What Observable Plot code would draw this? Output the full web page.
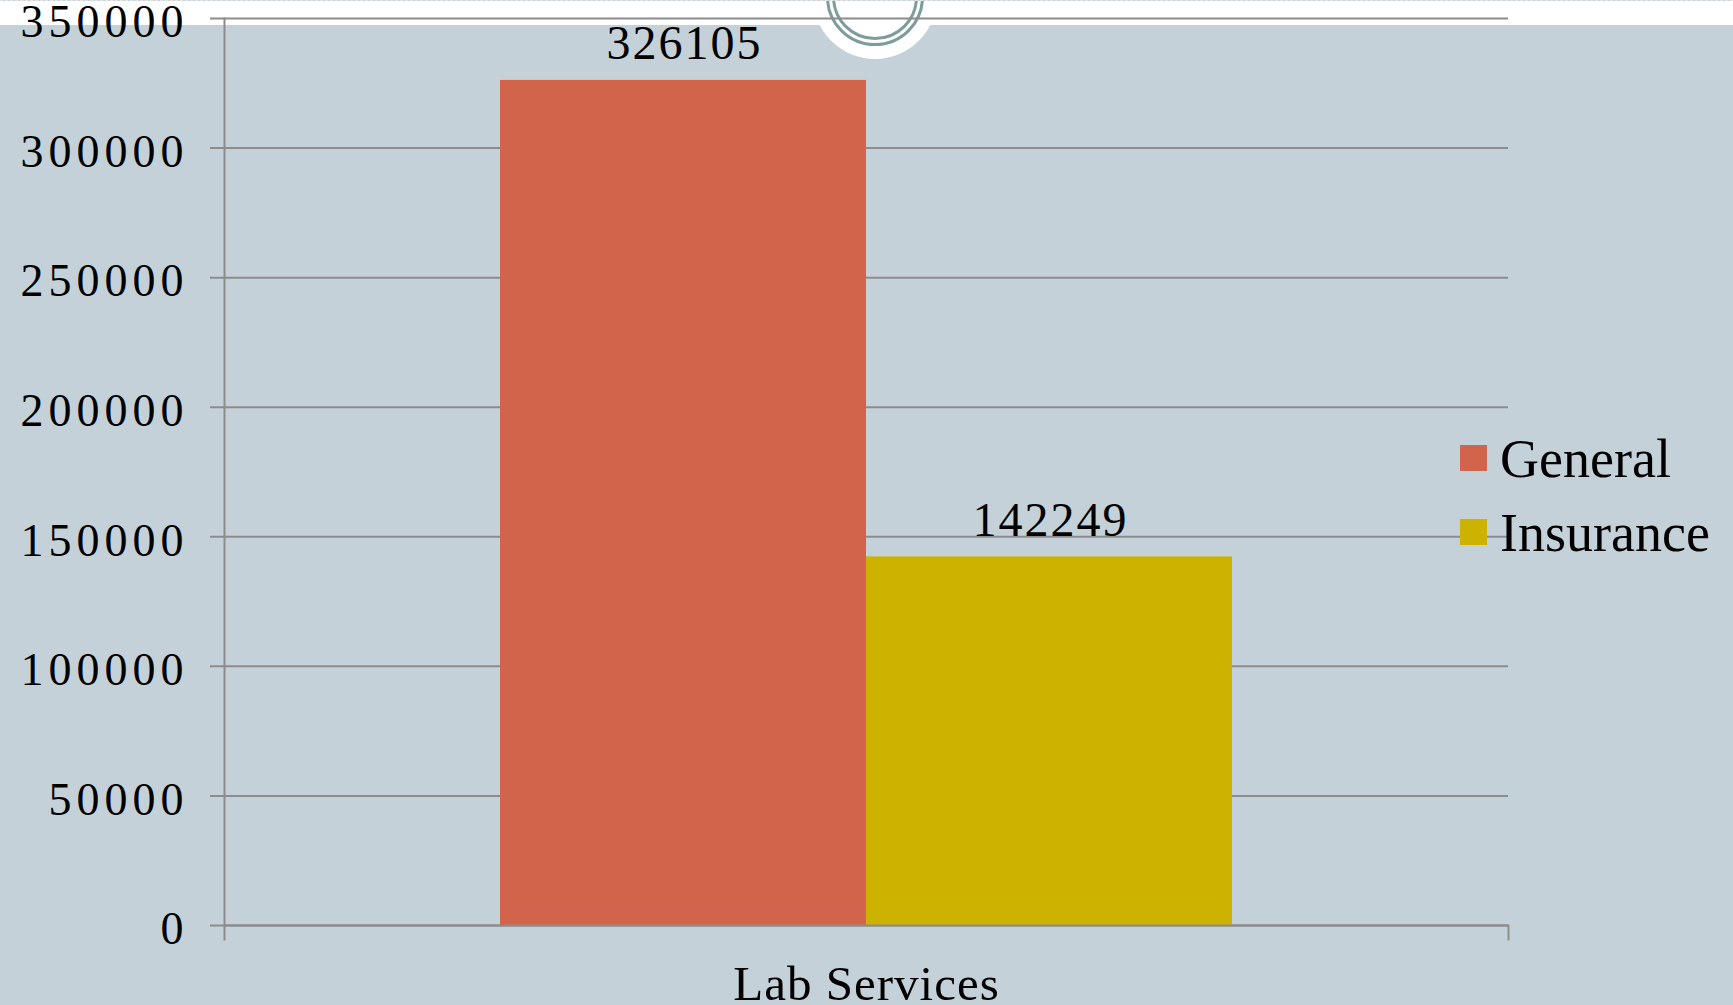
<!DOCTYPE html>
<html>
<head>
<meta charset="utf-8">
<script src="https://cdn.jsdelivr.net/npm/d3@7"></script>
<script src="https://cdn.jsdelivr.net/npm/@observablehq/plot@0.6"></script>
<style>
  html, body { margin: 0; padding: 0; background: #fff; }
  #page {
    position: relative; width: 1733px; height: 1005px; overflow: hidden;
    background: linear-gradient(to bottom, #ffffff 0px, #ffffff 24px, #c5d1d8 24px, #c5d1d8 100%);
    border-top: 1px dashed #e4e4e4; box-sizing: border-box;
    font-family: "Liberation Serif", serif;
  }
  #deco {
    position: absolute; left: 813px; top: -66px; width: 124px; height: 124px;
    border-radius: 50%; background: #fff;
  }
  #deco .ring1, #deco .ring2 {
    position: absolute; border-radius: 50%; box-sizing: border-box; border: 3px solid #7d9c9b;
  }
  #deco .ring1 { left: 13px; top: 13px; width: 98px; height: 98px; }
  #deco .ring2 { left: 19px; top: 19px; width: 86px; height: 86px; }
  #deco .num {
    position: absolute; left: 0; width: 124px; top: 30px; text-align: center;
    color: #7d9c9b; font-size: 44px; line-height: 44px;
  }
  #chart { position: absolute; left: 0; top: 0; }
  #chart g[aria-label="y-axis tick label"] { letter-spacing: 5px; }
  #chart g[aria-label="text"] { letter-spacing: 2px; }
  #chart g[aria-label="fx-axis tick label"] { letter-spacing: 1px; }
  #legend { position: absolute; left: 1460px; top: 428px; }
  .item { position: relative; height: 74px; }
  .sw { position: absolute; left: 0; top: 16px; width: 27px; height: 26px; }
  .lab { position: absolute; left: 40px; top: 0; font-size: 54px; line-height: 60px; color: #000; white-space: nowrap; }
</style>
</head>
<body>
<div id="page">
  <div id="deco"><div class="ring1"></div><div class="ring2"></div><div class="num">11</div></div>
  <div id="chart"></div>
  <div id="legend"></div>
</div>
<script>
// ---- data ----
const categories = ["Lab Services"];
const seriesNames = ["General", "Insurance"];
const generalValues = [326105];
const insuranceValues = [142249];
const seriesColors = ["#d2644b", "#cdb300"];
const yTicks = [0, 50000, 100000, 150000, 200000, 250000, 300000, 350000];

const valuesBySeries = [generalValues, insuranceValues];
const rows = [];
categories.forEach((c, ci) => {
  seriesNames.forEach((s, si) => rows.push({category: c, series: s, value: valuesBySeries[si][ci]}));
});

const W = 1733, H = 1005;
const mt = 17, mb = 81, ml = 224, mr = 225;
const gridColor = "#8c8c8c";

const chart = Plot.plot({
  width: W, height: H,
  marginTop: mt, marginBottom: mb, marginLeft: ml, marginRight: mr,
  style: {background: "transparent", fontFamily: "'Liberation Serif', serif", color: "#000", overflow: "visible"},
  fx: {domain: categories, padding: 0, axis: null, label: null},
  x: {domain: seriesNames, paddingInner: 0, paddingOuter: 0.753, axis: null},
  y: {domain: [0, 350000], axis: null},
  color: {domain: seriesNames, range: seriesColors},
  marks: [
    Plot.gridY(yTicks, {stroke: gridColor, strokeOpacity: 1, strokeWidth: 2, insetLeft: -14}),
    Plot.frame({anchor: "left", stroke: gridColor, strokeWidth: 2, insetBottom: -14}),
    Plot.frame({anchor: "right", stroke: gridColor, strokeWidth: 2, insetTop: H - mt - mb, insetBottom: -14}),
    Plot.axisY({ticks: yTicks, tickSize: 0, tickPadding: 36, fontSize: 46, dy: 4, tickFormat: d => String(d), label: null}),
    Plot.barY(rows, {fx: "category", x: "series", y: "value", fill: "series"}),
    Plot.ruleY([0], {stroke: gridColor, strokeWidth: 2}),
    Plot.text(rows, {fx: "category", x: "series", y: "value", text: d => String(d.value), lineAnchor: "bottom", dy: -21, dx: 1, fontSize: 48, fill: "#000"}),
    Plot.axisFx({anchor: "bottom", tickSize: 0, tickPadding: 40, fontSize: 49, label: null})
  ]
});
document.getElementById("chart").appendChild(chart);

// legend
const legend = document.getElementById("legend");
seriesNames.forEach((s, i) => {
  const item = document.createElement("div");
  item.className = "item";
  item.innerHTML = `<div class="sw" style="background:${seriesColors[i]}"></div><div class="lab">${s}</div>`;
  legend.appendChild(item);
});
</script>
</body>
</html>
